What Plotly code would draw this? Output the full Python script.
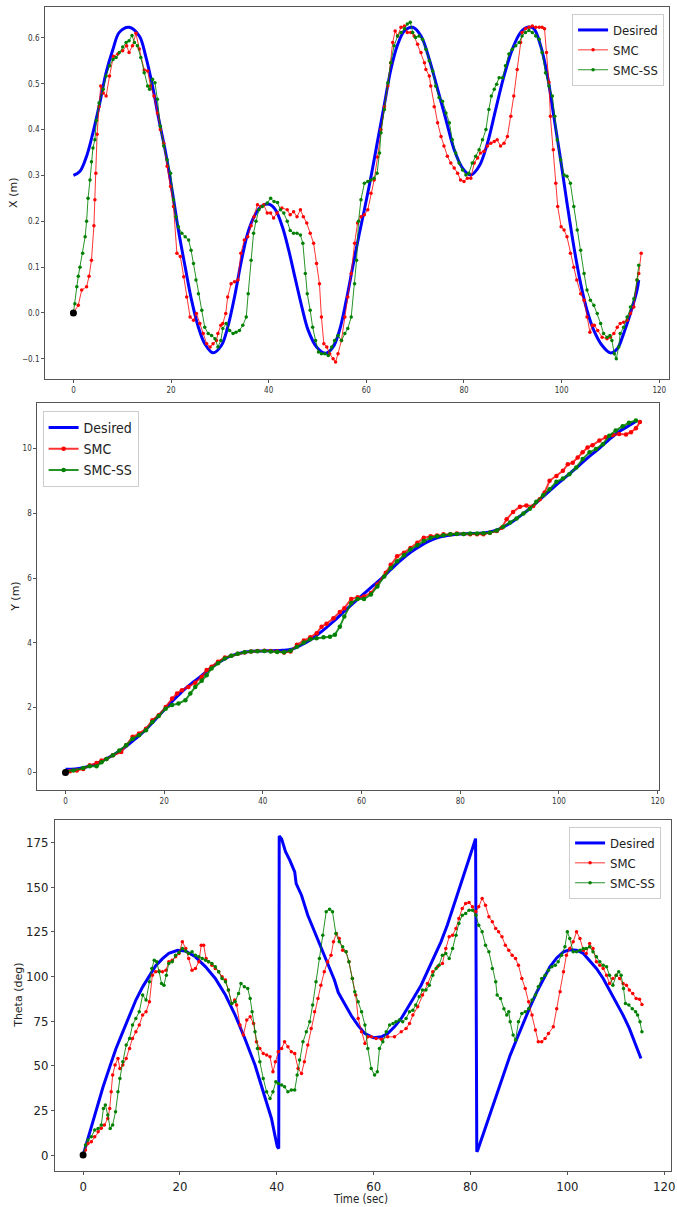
import plotly.graph_objects as go

W, H = 677, 1207

# ---------------- Panel 1 : X (m) ----------------
t_x_des = [0, 1.35, 2.7, 4.0, 5.4, 6.7, 8.1, 9.4, 11.4, 13.5, 14.8, 16.2, 17.5, 18.9, 20.2, 21.5, 22.9, 24.2,
           25.6, 26.9, 28.6, 30.3, 31.6, 33.0, 34.3, 35.7, 37.0, 38.4, 40.1, 41.4, 42.8, 44.1, 45.5, 46.8,
           48.1, 49.8, 51.7, 53.2, 54.5, 55.9, 57.2, 58.6, 59.6, 61.0, 62.3, 63.7, 65.0, 66.4, 67.8, 69.5,
           71.2, 72.9, 74.6, 76.3, 78.0, 79.7, 81.4, 83.1, 84.8, 86.5, 88.2, 89.9, 91.6, 93.0, 94.3, 95.7,
           97.1, 98.4, 99.8, 101.1, 102.5, 103.9, 105.2, 106.6, 108.3, 110.0, 111.4, 112.7, 114.1, 115.45, 115.8]
x_des = [0.30, 0.309, 0.342, 0.393, 0.458, 0.524, 0.575, 0.612, 0.623, 0.604, 0.56, 0.495, 0.422, 0.349,
         0.269, 0.181, 0.1, 0.028, -0.031, -0.067, -0.087, -0.071, -0.031, 0.035, 0.108, 0.174, 0.21, 0.232,
         0.237, 0.225, 0.188, 0.137, 0.072, 0.013, -0.038, -0.074, -0.088, -0.074, -0.038, 0.028, 0.10,
         0.175, 0.225, 0.30, 0.375, 0.455, 0.53, 0.585, 0.615, 0.623, 0.604, 0.553, 0.488, 0.422, 0.356,
         0.316, 0.301, 0.32, 0.37, 0.444, 0.517, 0.575, 0.612, 0.623, 0.62, 0.583, 0.517, 0.429, 0.334,
         0.24, 0.145, 0.064, 0.006, -0.038, -0.071, -0.087, -0.078, -0.045, -0.001, 0.05, 0.072]

t_x_smc = [0, 1.0, 1.7, 2.7, 3.2, 3.7, 4.2, 4.4, 4.6, 4.85, 5.25, 5.6, 6.1, 6.7, 7.4, 8.2, 9.1, 10.1, 10.9,
           11.4, 12.1, 12.8, 13.5, 14.5, 15.2, 15.8, 16.5, 17.2, 17.8, 18.5, 19.2, 19.9, 20.5, 21.2, 21.9,
           22.6, 23.2, 23.9, 24.6, 25.2, 25.9, 26.6, 27.3, 28.0, 28.6, 29.3, 29.6, 30.2, 30.6, 31.2, 31.6,
           32.3, 33.0, 33.7, 34.3, 35.0, 35.7, 36.4, 37.0, 37.7, 38.4, 39.0, 39.7, 40.4, 41.0, 41.7, 42.7,
           43.8, 44.4, 45.1, 45.8, 46.5, 47.1, 47.8, 48.5, 49.2, 49.8, 50.4, 50.8, 51.3, 51.9, 52.5, 53.2,
           53.7, 54.2, 54.9, 55.6, 56.2, 56.9, 57.6, 58.2, 58.9, 59.6, 60.3, 60.95, 61.6, 62.3, 63.0, 63.7,
           64.4, 65.0, 65.4, 65.9, 66.4, 67.1, 67.8, 68.4, 69.1, 69.8, 70.5, 71.2, 71.9, 72.2, 72.9, 73.2,
           73.9, 74.6, 75.3, 75.9, 76.6, 77.3, 78.0, 78.7, 79.3, 80.0, 80.7, 81.4, 82.1, 82.8, 83.4, 84.1,
           84.8, 85.5, 86.2, 86.8, 87.5, 88.2, 88.9, 89.6, 90.2, 90.9, 91.6, 91.9, 92.6, 93.3, 94.0, 94.7,
           95.4, 96.0, 96.5, 96.9, 97.4, 97.7, 98.3, 98.8, 99.2, 99.9, 100.5, 101.1, 101.8, 102.5, 103.1,
           103.9, 104.6, 105.2, 105.8, 106.3, 106.7, 107.4, 108.3, 109.3, 110.0, 110.7, 111.4, 112.0, 112.7,
           113.4, 114.1, 114.8, 115.45, 115.8, 116.3]
x_smc = [0, 0.017, 0.05, 0.057, 0.08, 0.115, 0.19, 0.247, 0.305, 0.39, 0.45, 0.495, 0.48, 0.473, 0.517,
         0.56, 0.565, 0.572, 0.583, 0.568, 0.583, 0.61, 0.576, 0.53, 0.528, 0.495, 0.473, 0.436, 0.4, 0.37,
         0.32, 0.276, 0.232, 0.13, 0.123, 0.079, 0.035, -0.009, -0.016, -0.001, -0.023, -0.045, -0.067,
         -0.074, -0.067, -0.06, -0.045, -0.027, -0.023, -0.001, 0.035, 0.064, 0.068, 0.072, 0.13, 0.159,
         0.166, 0.19, 0.21, 0.236, 0.232, 0.236, 0.218, 0.218, 0.207, 0.218, 0.229, 0.225, 0.214, 0.221,
         0.21, 0.225, 0.21, 0.196, 0.174, 0.152, 0.108, 0.064, -0.009, -0.067, -0.074, -0.089, -0.1,
         -0.107, -0.089, -0.06, -0.009, 0.035, 0.086, 0.152, 0.196, 0.21, 0.214, 0.225, 0.261, 0.29, 0.34,
         0.4, 0.45, 0.495, 0.546, 0.59, 0.615, 0.604, 0.623, 0.626, 0.612, 0.612, 0.604, 0.586, 0.568,
         0.546, 0.531, 0.517, 0.495, 0.45, 0.415, 0.385, 0.364, 0.342, 0.327, 0.316, 0.305, 0.29, 0.287,
         0.294, 0.294, 0.327, 0.338, 0.349, 0.353, 0.364, 0.37, 0.374, 0.378, 0.364, 0.37, 0.385, 0.429,
         0.473, 0.531, 0.59, 0.612, 0.62, 0.623, 0.626, 0.623, 0.623, 0.623, 0.62, 0.568, 0.503, 0.429,
         0.356, 0.283, 0.232, 0.188, 0.181, 0.166, 0.13, 0.1, 0.072, 0.042, 0.028, -0.009, -0.042, -0.027,
         -0.027, -0.038, -0.053, -0.056, -0.053, -0.045, -0.031, -0.023, -0.02, -0.016, -0.001, 0.013,
         0.072, 0.086, 0.13]

t_x_ss = [0, 0.3, 0.7, 1.0, 1.35, 1.9, 2.4, 2.7, 3.0, 3.4, 3.7, 4.0, 4.4, 4.7, 5.25, 6.1, 6.7, 7.4, 8.1,
          8.75, 9.4, 10.1, 10.8, 11.4, 12.0, 12.5, 13.1, 13.8, 14.5, 15.2, 15.6, 16.2, 16.7, 17.2, 17.8,
          18.5, 19.2, 19.9, 20.5, 21.0, 21.5, 22.2, 22.9, 23.6, 24.1, 24.6, 25.1, 25.6, 26.3, 26.9, 27.6,
          28.3, 29.0, 29.6, 30.2, 30.6, 31.3, 32.0, 32.7, 33.3, 34.0, 34.7, 35.4, 35.8, 36.4, 36.9, 37.4,
          38.0, 38.7, 39.7, 40.4, 41.1, 41.8, 42.4, 43.1, 43.8, 44.4, 45.1, 45.8, 46.5, 47.0, 47.5, 47.9,
          48.5, 49.0, 49.6, 50.2, 50.8, 51.5, 52.2, 52.9, 53.5, 54.2, 54.9, 55.6, 56.2, 56.9, 57.6, 58.0,
          58.4, 58.9, 59.6, 60.3, 60.95, 61.6, 62.2, 62.7, 63.0, 63.7, 64.4, 65.0, 65.7, 66.4, 67.1, 67.8,
          68.4, 69.0, 69.5, 70.1, 70.8, 71.5, 72.2, 72.9, 73.6, 74.2, 74.9, 75.6, 76.3, 77.0, 77.6, 78.3,
          79.0, 79.7, 80.4, 81.0, 81.7, 82.4, 83.1, 83.8, 84.5, 85.1, 85.6, 86.2, 86.7, 87.2, 87.9, 88.5,
          89.2, 89.9, 90.6, 91.3, 91.9, 92.6, 93.3, 94.0, 94.7, 95.4, 96.0, 96.7, 97.4, 98.1, 98.6, 99.1,
          99.8, 100.5, 101.1, 101.8, 102.5, 103.2, 103.9, 104.6, 105.2, 105.9, 106.6, 107.3, 108.0, 108.6,
          109.3, 109.9, 110.3, 110.8, 111.2, 111.7, 112.0, 112.7, 113.4, 114.1, 114.8, 115.45, 115.8]
x_ss = [0, 0.02, 0.057, 0.08, 0.1, 0.13, 0.166, 0.2, 0.25, 0.29, 0.33, 0.36, 0.378, 0.42, 0.458, 0.488,
        0.517, 0.539, 0.553, 0.557, 0.568, 0.58, 0.59, 0.594, 0.605, 0.59, 0.583, 0.557, 0.524, 0.495,
        0.488, 0.51, 0.502, 0.466, 0.407, 0.364, 0.334, 0.305, 0.247, 0.21, 0.188, 0.174, 0.166, 0.159,
        0.137, 0.108, 0.072, 0.042, 0.006, -0.031, -0.045, -0.049, -0.056, -0.074, -0.06, -0.034, -0.023,
        -0.038, -0.045, -0.042, -0.038, -0.027, -0.009, 0.042, 0.115, 0.174, 0.2, 0.225, 0.232, 0.24,
        0.25, 0.243, 0.241, 0.225, 0.218, 0.2, 0.18, 0.174, 0.174, 0.17, 0.152, 0.086, 0.042, 0.006,
        -0.031, -0.06, -0.085, -0.089, -0.089, -0.093, -0.074, -0.06, -0.049, -0.06, -0.045, -0.034,
        -0.009, 0.064, 0.115, 0.2, 0.247, 0.283, 0.287, 0.29, 0.294, 0.305, 0.349, 0.393, 0.444, 0.502,
        0.546, 0.583, 0.604, 0.612, 0.62, 0.63, 0.634, 0.612, 0.601, 0.604, 0.597, 0.575, 0.55, 0.528,
        0.495, 0.47, 0.462, 0.436, 0.415, 0.378, 0.349, 0.327, 0.312, 0.301, 0.305, 0.327, 0.342, 0.356,
        0.378, 0.4, 0.444, 0.473, 0.488, 0.499, 0.513, 0.513, 0.539, 0.565, 0.575, 0.583, 0.59, 0.604,
        0.612, 0.616, 0.612, 0.604, 0.597, 0.568, 0.524, 0.495, 0.473, 0.429, 0.378, 0.334, 0.301, 0.298,
        0.283, 0.232, 0.181, 0.137, 0.086, 0.05, 0.028, 0.017, -0.001, -0.023, -0.045, -0.053, -0.049,
        -0.06, -0.089, -0.1, -0.074, -0.045, -0.031, -0.009, 0.013, 0.031, 0.072, 0.104]

# ---------------- Panel 2 : Y (m) ----------------
t_y_des = [0, 2, 4, 6, 8, 10, 12, 14, 16, 18, 20, 22, 24, 26, 28, 30, 32, 34, 36, 38, 40, 42, 44, 46, 48,
           50, 52, 54, 56, 58, 60, 62, 64, 66, 68, 70, 72, 74, 76, 78, 80, 82, 84, 86, 88, 90, 92, 94, 96,
           98, 100, 102, 104, 106, 108, 110, 112, 114, 115.8]
y_des = [0.1, 0.11, 0.16, 0.25, 0.4, 0.57, 0.77, 1.02, 1.28, 1.6, 1.93, 2.25, 2.55, 2.8, 3.04, 3.29,
         3.48, 3.62, 3.7, 3.74, 3.75, 3.76, 3.77, 3.81, 3.95, 4.13, 4.36, 4.62, 4.9, 5.18, 5.45, 5.72,
         5.98, 6.27, 6.55, 6.8, 7.0, 7.16, 7.27, 7.33, 7.36, 7.37, 7.38, 7.42, 7.52, 7.68, 7.9, 8.13, 8.4,
         8.67, 8.94, 9.2, 9.46, 9.73, 9.98, 10.25, 10.5, 10.68, 10.85]

t_y_smc = [0, 0.9, 2.3, 3.6, 4.9, 6.3, 7.3, 8.3, 9.6, 11.3, 12.3, 13.6, 14.9, 16.3, 17.6, 18.9, 20.3,
           21.6, 22.6, 23.6, 24.9, 26.3, 27.6, 28.6, 29.6, 30.9, 32.3, 33.6, 34.9, 36.3, 37.6, 38.9, 40.3,
           41.6, 42.9, 44.3, 45.6, 46.9, 48.3, 49.6, 50.9, 51.9, 52.9, 54.3, 55.6, 56.5, 57.9, 59.2, 60.5,
           61.9, 63.2, 64.9, 65.9, 67.2, 68.6, 69.9, 71.3, 72.6, 74.0, 75.3, 76.6, 78.0, 79.3, 80.7, 82.0,
           83.4, 84.7, 86.0, 87.4, 88.4, 89.4, 90.7, 92.1, 93.4, 94.8, 96.1, 97.1, 98.1, 99.5, 100.8,
           101.8, 102.8, 103.8, 104.8, 105.8, 106.8, 108.2, 109.5, 110.9, 112.2, 113.6, 114.6, 115.6, 116.4]
y_smc = [0, 0.04, 0.06, 0.11, 0.22, 0.29, 0.37, 0.42, 0.53, 0.63, 0.84, 1.1, 1.2, 1.35, 1.61, 1.77, 2.02,
         2.28, 2.44, 2.54, 2.64, 2.77, 2.95, 3.16, 3.26, 3.42, 3.55, 3.6, 3.66, 3.7, 3.73, 3.75, 3.76,
         3.75, 3.73, 3.7, 3.73, 3.94, 4.07, 4.17, 4.3, 4.5, 4.59, 4.76, 4.95, 5.07, 5.35, 5.41, 5.43, 5.54,
         5.8, 6.16, 6.41, 6.67, 6.78, 6.93, 7.09, 7.24, 7.29, 7.31, 7.35, 7.35, 7.37, 7.36, 7.35, 7.35,
         7.35, 7.4, 7.45, 7.55, 7.81, 8.04, 8.2, 8.24, 8.22, 8.43, 8.64, 9.0, 9.15, 9.31, 9.51, 9.56, 9.72,
         9.88, 10.03, 10.1, 10.24, 10.34, 10.41, 10.44, 10.43, 10.5, 10.62, 10.81]

t_y_ss = [0, 1.6, 3.6, 4.9, 6.3, 7.3, 8.3, 9.6, 10.9, 12.3, 13.6, 14.9, 16.3, 17.6, 18.9, 20.3, 21.6,
          22.9, 24.3, 25.3, 26.3, 27.6, 28.6, 29.6, 30.9, 32.3, 33.6, 34.9, 36.3, 37.6, 38.9, 40.3, 41.6,
          42.9, 44.3, 45.6, 46.9, 48.3, 49.6, 50.9, 52.3, 53.6, 54.6, 55.6, 56.5, 57.9, 59.2, 60.5, 61.9,
          63.2, 64.6, 65.9, 67.2, 68.6, 69.9, 71.3, 72.6, 74.0, 75.3, 76.6, 78.0, 79.3, 80.7, 82.0, 83.4,
          84.7, 86.0, 87.4, 88.7, 90.1, 91.4, 92.8, 94.1, 95.4, 96.8, 98.1, 99.5, 100.8, 102.1, 103.5,
          104.8, 106.2, 107.5, 108.9, 110.2, 111.5, 112.9, 114.2, 115.6]
y_ss = [0.04, 0.06, 0.14, 0.19, 0.19, 0.32, 0.42, 0.53, 0.68, 0.84, 1.04, 1.15, 1.3, 1.56, 1.74, 1.97,
        2.08, 2.13, 2.23, 2.44, 2.64, 2.83, 3.0, 3.21, 3.37, 3.52, 3.6, 3.66, 3.71, 3.73, 3.74, 3.75, 3.73,
        3.72, 3.71, 3.76, 3.88, 4.01, 4.11, 4.14, 4.17, 4.19, 4.25, 4.5, 4.81, 5.23, 5.35, 5.35, 5.49,
        5.74, 6.05, 6.31, 6.52, 6.7, 6.88, 7.01, 7.14, 7.24, 7.29, 7.32, 7.35, 7.36, 7.36, 7.37, 7.37,
        7.38, 7.4, 7.47, 7.58, 7.71, 7.84, 7.99, 8.14, 8.35, 8.55, 8.74, 8.97, 9.07, 9.2, 9.41, 9.67,
        9.88, 9.98, 10.13, 10.39, 10.55, 10.68, 10.79, 10.86]

# ---------------- Panel 3 : Theta (deg) ----------------
t_th_des = [0, 1.4, 2.7, 4.1, 5.5, 6.8, 8.2, 9.6, 10.9, 12.3, 13.7, 15.0, 16.4, 17.7, 19.5, 21.2, 23.2,
            25.3, 27.3, 29.4, 31.4, 33.4, 35.5, 37.5, 38.9, 39.6, 40.1, 40.4, 40.5, 41.0, 41.8, 42.7, 43.7,
            44.0, 45.1, 46.4, 47.8, 49.1, 50.5, 51.9, 52.7, 54.1, 55.4, 56.8, 58.2, 60.0, 61.6, 62.9, 64.3,
            65.7, 67.0, 68.4, 69.8, 71.1, 72.5, 73.9, 75.2, 76.6, 78.0, 79.3, 80.4, 81.05, 81.3, 81.5, 82.8,
            84.1, 85.5, 86.9, 88.2, 89.6, 91.0, 92.3, 93.7, 95.1, 96.4, 97.8, 99.2, 100.5, 101.9, 103.3,
            104.6, 106.0, 107.4, 108.7, 110.1, 111.5, 112.8, 114.2, 115.2]
th_des = [0, 13, 26, 38, 49.4, 59.7, 69, 78.4, 86.8, 94.2, 100.7, 106, 110, 112.9, 114.7, 114.2, 111,
          105.4, 98.9, 89.6, 78.4, 65.3, 50.4, 33.6, 20.5, 11.2, 4.7, 3.7, 178.7, 177, 169.8, 165, 158.6,
          152, 145.5, 134.3, 125, 115.7, 106.3, 98, 91, 84, 78, 72.5, 68, 65.7, 66.2, 68.1, 71.8, 76.5,
          82, 88.6, 95.1, 102.6, 111, 119.4, 128.7, 139.9, 151.1, 162.3, 171.6, 177.2, 1.9, 2.8, 13.1,
          24.3, 35.4, 45.7, 56, 65.3, 74.6, 83, 91.4, 98.9, 105.4, 110.4, 113.8, 114.9, 114.7, 112.9,
          109.1, 104.5, 98.9, 92.4, 85.8, 78.4, 70.9, 61.6, 54.1]

t_th_smc = [0, 0.5, 1.0, 1.7, 2.4, 3.1, 3.75, 4.4, 5.1, 5.5, 5.8, 6.1, 6.6, 7.2, 7.6, 8.2, 8.9, 9.6, 10.2,
            10.9, 11.6, 12.3, 13.0, 13.7, 14.3, 15.0, 15.7, 16.4, 17.1, 17.7, 18.4, 19.1, 19.8, 20.5, 21.2,
            21.8, 22.5, 23.2, 23.9, 24.4, 24.9, 25.4, 25.9, 26.6, 27.3, 28.0, 28.7, 29.4, 30.0, 30.7, 31.3,
            31.7, 32.4, 33.1, 33.8, 34.5, 35.2, 35.8, 36.5, 37.2, 37.9, 38.6, 39.2, 39.7, 40.3, 41.0, 41.6,
            42.3, 43.0, 43.7, 44.4, 45.1, 45.7, 46.4, 47.1, 47.8, 48.5, 49.1, 49.8, 50.5, 51.2, 51.7, 52.3,
            52.9, 53.6, 54.3, 54.9, 55.6, 56.3, 56.8, 57.5, 58.2, 58.8, 59.5, 60.5, 61.6, 62.9, 64.3, 65.7,
            66.7, 67.4, 68.1, 69.1, 70.1, 71.1, 72.2, 73.2, 74.2, 74.9, 75.6, 76.3, 77.0, 77.6, 78.3, 79.0,
            79.7, 80.4, 81.1, 81.7, 82.4, 83.1, 83.8, 84.5, 85.2, 85.8, 86.5, 87.2, 87.9, 88.6, 89.3, 89.9,
            90.6, 91.3, 92.0, 92.7, 93.4, 94.0, 94.7, 95.4, 96.1, 97.1, 97.8, 98.5, 99.2, 99.8, 100.5,
            101.2, 101.9, 102.6, 103.3, 103.9, 104.6, 105.3, 106.0, 106.7, 107.4, 108.1, 108.7, 109.4,
            110.1, 110.8, 111.5, 112.2, 112.8, 113.5, 114.2, 114.9, 115.4]
th_smc = [0, 2.8, 6.5, 7.5, 10.3, 13.1, 15, 16.8, 20.5, 26.1, 35.4, 44.8, 50.4, 54.1, 48.5, 50.4, 54.1,
          59.7, 65.3, 69, 72.8, 78.4, 80.2, 85.8, 100.7, 102.6, 103, 102.6, 103.5, 108.2, 109.1, 111, 112.9,
          119.4, 115.7, 110, 103.5, 104.5, 108.2, 117.5, 117.5, 110, 108.2, 106.3, 104.5, 102.6, 99.8, 98,
          92.4, 84.9, 86.8, 84, 72.8, 67.2, 75.6, 77.4, 73.7, 63.4, 59.7, 56.9, 56, 55, 46.6, 52.2, 57.8,
          59.7, 63.4, 60.6, 57.8, 56.9, 48.5, 45.7, 52.2, 61.6, 70.9, 80.2, 87.7, 95.1, 102.6, 108.2, 111.9,
          119.4, 124.1, 121.3, 114.7, 113.8, 108.2, 98.9, 89.6, 76.5, 69, 62.5, 66.2, 66.2, 65.3, 64.9,
          66.2, 66.2, 69, 70.9, 73.7, 78.4, 83, 89.6, 96.1, 102.6, 105.4, 107.3, 115.7, 122.2, 123.1, 126.9,
          132.5, 138.1, 140.9, 141.4, 139, 136.2, 139, 143.7, 139.9, 133.4, 130.6, 126.9, 125, 122.2, 117.5,
          114.7, 111.9, 110, 106.3, 98.9, 93.3, 85.8, 78.4, 70, 63.4, 63.4, 65.3, 68.1, 71.8, 82, 91.4,
          102.6, 111.9, 115.7, 119.4, 125, 121.3, 114.7, 112.9, 118.4, 115.7, 108.2, 106.3, 104.5, 100.7,
          96.1, 98.9, 100.7, 98.9, 96.1, 95.1, 92.4, 90.5, 87.7, 87.3, 84.3]

t_th_ss = [0, 0.5, 1.0, 1.7, 2.4, 3.1, 3.75, 4.2, 4.6, 5.1, 5.6, 6.1, 6.7, 7.2, 7.6, 8.2, 8.9, 9.6, 10.2,
           10.9, 11.6, 12.3, 13.0, 13.7, 14.2, 14.7, 15.2, 15.7, 16.2, 16.7, 17.2, 17.7, 18.4, 19.1, 19.8,
           20.5, 21.2, 21.8, 22.5, 23.2, 23.9, 24.6, 25.3, 25.9, 26.6, 27.3, 28.0, 28.7, 29.4, 30.0, 30.7,
           31.4, 32.1, 32.6, 33.3, 34.0, 34.5, 34.9, 35.5, 36.0, 36.5, 37.2, 37.9, 38.6, 39.2, 39.8, 40.3,
           41.0, 41.6, 42.3, 43.0, 43.7, 44.2, 44.7, 45.4, 46.1, 46.8, 47.4, 48.1, 48.8, 49.5, 50.2, 50.9,
           51.5, 52.2, 52.9, 53.6, 54.3, 54.9, 55.6, 56.1, 56.8, 57.5, 58.2, 58.8, 59.5, 60.2, 60.75, 61.2,
           61.9, 62.6, 63.3, 64.0, 64.6, 65.3, 66.0, 66.7, 67.4, 68.1, 68.7, 69.4, 70.1, 70.8, 71.5, 72.2,
           72.9, 73.5, 74.2, 74.9, 75.6, 76.3, 77.0, 77.6, 78.3, 79.0, 79.7, 80.4, 81.1, 81.7, 82.4, 83.1,
           83.8, 84.5, 85.2, 85.5, 86.2, 86.9, 87.5, 87.9, 88.2, 88.8, 89.3, 89.9, 90.6, 91.3, 92.0, 92.7,
           93.4, 94.0, 94.7, 95.4, 96.1, 96.8, 97.5, 98.1, 98.8, 99.5, 100.0, 100.5, 101.2, 101.9, 102.6,
           103.3, 103.9, 104.6, 105.3, 106.0, 106.7, 107.4, 108.1, 108.7, 109.4, 110.1, 110.6, 111.1,
           111.6, 112.0, 112.7, 113.4, 114.1, 114.5, 115.0, 115.4]
th_ss = [0, 5.6, 8.4, 10.3, 14, 14.9, 16.8, 26.1, 28, 22.4, 14.9, 16.8, 24.3, 35.4, 42.9, 52.2, 61.6, 65.3,
         72.8, 76.5, 80.2, 89.6, 86.8, 97, 104.5, 109.1, 108.2, 102.6, 96.1, 95.1, 100.7, 107.3, 108.2,
         111.9, 113.4, 115.7, 114.2, 112.9, 113.8, 111.9, 111, 110, 109.1, 108.2, 107.3, 105.4, 102.6, 98.9,
         97, 92.4, 84.9, 85.8, 90.5, 96.1, 94.2, 93.3, 87.7, 80.2, 69, 59.7, 52.2, 42.9, 35.4, 31.7, 35.4,
         41, 40.1, 39.2, 38.2, 35.4, 36.4, 36.4, 44.8, 53.2, 63.4, 69, 74.6, 84, 97, 110, 123.1, 136.2,
         137.7, 136.2, 124.1, 119.4, 116.6, 113.8, 108.2, 98.9, 91.4, 85.8, 80.2, 72.8, 59.7, 48.5, 44.8,
         46.6, 59.7, 63.4, 69, 72.8, 73.7, 74.6, 75.6, 74.6, 76.5, 80.2, 81.1, 84, 88.6, 92.4, 92.4, 95.1,
         100.7, 104.5, 106.3, 111.9, 112.9, 110, 115.7, 123.1, 129.7, 134.3, 135.3, 137.1, 137.1, 134.3,
         128.7, 125, 117.5, 113.8, 104.5, 97, 89.6, 87.7, 82, 78.4, 80.2, 74.6, 67.2, 64.4, 74.6, 79.3,
         80.2, 82, 86.8, 89.6, 94.2, 98.9, 100.7, 103.5, 105.4, 106.3, 108.2, 111.9, 116.6, 125, 121.3,
         113.8, 113.8, 114.7, 115.7, 115.7, 116.6, 113.8, 111, 108.2, 106.3, 105.4, 100.7, 95.1, 100.7,
         102.6, 100.7, 93.3, 84.9, 84, 82, 80.2, 78.4, 74.6, 69]

x_ticks = [0, 20, 40, 60, 80, 100, 120]
x1_yticks = [-0.1, 0.0, 0.1, 0.2, 0.3, 0.4, 0.5, 0.6]
y2_yticks = [0, 2, 4, 6, 8, 10]
th3_yticks = [0, 25, 50, 75, 100, 125, 150, 175]
series_names = ["Desired", "SMC", "SMC-SS"]

NARROW = "Liberation Sans Narrow, DejaVu Sans Condensed, Roboto Condensed, Liberation Sans, sans-serif"
DEJAVU = "DejaVu Sans, sans-serif"

fig = go.Figure()

panels = [
    ("x", "y", "legend", t_x_des, x_des, t_x_smc, x_smc, t_x_ss, x_ss, "spline", 3.5, 1),
    ("x2", "y2", "legend2", t_y_des, y_des, t_y_smc, y_smc, t_y_ss, y_ss, "spline", 4.5, 2),
    ("x3", "y3", "legend3", t_th_des, th_des, t_th_smc, th_smc, t_th_ss, th_ss, "linear", 3.5, 1),
]

for xa, ya, lg, td, vd, ts, vs, tss, vss, shape, msz, lw in panels:
    fig.add_trace(go.Scatter(x=td, y=vd, mode="lines", name=series_names[0], xaxis=xa, yaxis=ya,
                             legend=lg, line=dict(color="#0000ff", width=3, shape=shape)))
    fig.add_trace(go.Scatter(x=ts, y=vs, mode="lines+markers", name=series_names[1], xaxis=xa, yaxis=ya,
                             legend=lg, line=dict(color="rgba(255,0,0,0.8)", width=lw),
                             marker=dict(color="#ff0000", size=msz)))
    fig.add_trace(go.Scatter(x=tss, y=vss, mode="lines+markers", name=series_names[2], xaxis=xa, yaxis=ya,
                             legend=lg, line=dict(color="rgba(0,128,0,0.85)", width=lw),
                             marker=dict(color="#008000", size=msz)))
    fig.add_trace(go.Scatter(x=[0], y=[0], mode="markers", xaxis=xa, yaxis=ya, showlegend=False,
                             marker=dict(color="black", size=7)))


def px_dom(a, b, total):
    return [a / total, b / total]


def py_dom(top, bottom):
    return [1 - bottom / H, 1 - top / H]


axis_common = dict(showgrid=False, zeroline=False, showline=True, mirror=True, linecolor="#555",
                   linewidth=1, ticks="outside", tickcolor="#555")

legend_common = dict(bgcolor="rgba(255,255,255,0.8)", bordercolor="#ccc", borderwidth=1,
                     itemwidth=30, tracegroupgap=0)

fig.update_layout(
    width=W, height=H, margin=dict(l=0, r=0, t=0, b=0),
    paper_bgcolor="white", plot_bgcolor="white", showlegend=True,
    xaxis=dict(domain=px_dom(45.5, 675, W), range=[-5.8, 122.0], tickvals=x_ticks, anchor="y",
               ticklen=3, tickfont=dict(family=NARROW, size=8, color="#333"), **axis_common),
    yaxis=dict(domain=py_dom(6.7, 379), range=[-0.144, 0.668], tickvals=x1_yticks, tickformat=".1f",
               anchor="x", ticklen=3, tickfont=dict(family=NARROW, size=8, color="#333"), **axis_common),
    xaxis2=dict(domain=px_dom(37.7, 665, W), range=[-5.7, 120.3], tickvals=x_ticks, anchor="y2",
                ticklen=3, tickfont=dict(family=NARROW, size=8, color="#333"), **axis_common),
    yaxis2=dict(domain=py_dom(403, 790), range=[-0.54, 11.4], tickvals=y2_yticks, anchor="x2",
                ticklen=3, tickfont=dict(family=NARROW, size=8, color="#333"), **axis_common),
    xaxis3=dict(domain=px_dom(55.5, 676.5, W), range=[-5.8, 121.3], tickvals=x_ticks, anchor="y3",
                ticklen=3, tickfont=dict(family=NARROW, size=13, color="#222"), **axis_common),
    yaxis3=dict(domain=py_dom(820, 1171), range=[-8.9, 187.6], tickvals=th3_yticks, anchor="x3",
                ticklen=3, tickfont=dict(family=NARROW, size=13, color="#222"), **axis_common),
    legend=dict(x=670 / W, y=1 - 14 / H, xanchor="right", yanchor="top",
                font=dict(family=NARROW, size=13, color="#222"), **legend_common),
    legend2=dict(x=43 / W, y=1 - 411 / H, xanchor="left", yanchor="top",
                 font=dict(family=NARROW, size=14, color="#222"), **legend_common),
    legend3=dict(x=667 / W, y=1 - 827 / H, xanchor="right", yanchor="top",
                 font=dict(family=NARROW, size=13, color="#222"), **legend_common),
    annotations=[
        dict(text="X (m)", x=14 / W, y=1 - 193 / H, xref="paper", yref="paper", showarrow=False,
             xanchor="center", yanchor="middle", textangle=-90,
             font=dict(family=DEJAVU, size=11, color="#222")),
        dict(text="Y (m)", x=15 / W, y=1 - 596 / H, xref="paper", yref="paper", showarrow=False,
             xanchor="center", yanchor="middle", textangle=-90,
             font=dict(family=DEJAVU, size=11, color="#222")),
        dict(text="Theta (deg)", x=18 / W, y=1 - 995 / H, xref="paper", yref="paper", showarrow=False,
             xanchor="center", yanchor="middle", textangle=-90,
             font=dict(family=DEJAVU, size=11, color="#222")),
        dict(text="Time (sec)", x=364 / W, y=1 - 1199 / H, xref="paper", yref="paper", showarrow=False,
             xanchor="center", yanchor="middle",
             font=dict(family=NARROW, size=11.5, color="#222")),
    ],
)

fig.write_html("out.html", config={"displayModeBar": False},
               post_script="document.body.style.margin='0px';document.body.style.padding='0px';"
                           "document.body.style.overflow='hidden';")
